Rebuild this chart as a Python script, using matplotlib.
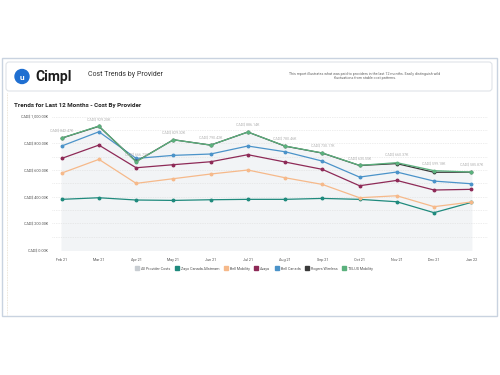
import numpy as np
import matplotlib
matplotlib.use("Agg")
import matplotlib.pyplot as plt
from matplotlib.patches import FancyBboxPatch, Rectangle, Circle
from matplotlib.lines import Line2D

plt.rcParams['font.family'] = ['Roboto', 'DejaVu Sans']

months = ["Feb 21", "Mar 21", "Apr 21", "May 21", "Jun 21", "Jul 21",
          "Aug 21", "Sep 21", "Oct 21", "Nov 21", "Dec 21", "Jan 22"]

# values in thousands of CAD$
all_provider = [842.47, 929.20, 666.73, 829.32, 790.42, 886.14,
                780.46, 730.17, 635.55, 660.37, 599.18, 585.87]
zayo = [380, 392, 375, 372, 377, 380, 380, 387, 380, 362, 280, 357]
bell_mobility = [577, 680, 500, 535, 570, 600, 542, 492, 392, 407, 325, 360]
avaya = [687, 787, 617, 640, 662, 715, 660, 605, 482, 522, 450, 455]
bell_canada = [780, 887, 687, 710, 720, 780, 737, 667, 547, 585, 517, 497]
rogers = [839, 928, 664, 827, 787, 885, 779, 727, 634, 648, 583, 584]
telus = [840, 930, 662, 827, 787, 885, 780, 728, 635, 655, 595, 585]

series = [
    ("Zayo Canada Allstream", zayo, "#1f8a7d"),
    ("Bell Mobility", bell_mobility, "#f6b98a"),
    ("Avaya", avaya, "#8e2a57"),
    ("Bell Canada", bell_canada, "#4b93c9"),
    ("Rogers Wireless", rogers, "#3a3a3a"),
    ("TELUS Mobility", telus, "#5bb17d"),
]

fig = plt.figure(figsize=(5, 3.75), dpi=100)

# background layer in pixel coordinates
bg = fig.add_axes([0, 0, 1, 1], zorder=0)
bg.set_xlim(0, 500)
bg.set_ylim(375, 0)
bg.axis("off")

bg.add_patch(Rectangle((2, 58), 495, 258, fill=False, ec="#c9d3e0", lw=1.0))
bg.add_patch(FancyBboxPatch((6, 62), 486, 29, boxstyle="round,pad=0,rounding_size=3",
                            fc="white", ec="#dfe3e8", lw=0.8))
bg.plot([7, 7], [93, 315], color="#e6dccb", lw=0.6, ls=(0, (1, 1)))

bg.add_patch(Circle((22, 76.5), 7, color="#1f6fd1"))
bg.text(22, 77, "u", color="white", fontsize=6, fontweight="bold", ha="center", va="center")
bg.text(35, 77, "Cimpl", fontsize=10, fontweight="bold", color="#1d1d1d", va="center")
bg.text(88, 75, "Cost Trends by Provider", fontsize=5, color="#333333", va="center")
bg.text(365, 76, "This report illustrates what was paid to providers in the last 12 months. Easily distinguish wild\n"
        "fluctuations from stable cost patterns.",
        fontsize=2.6, color="#666666", ha="center", va="center", linespacing=1.3)

bg.text(14, 106, "Trends for Last 12 Months - Cost By Provider", fontsize=4.5,
        fontweight="bold", color="#222222", va="center")

# chart
ax = fig.add_axes([52 / 500, 1 - 250 / 375, 436 / 500, 133.3 / 375], zorder=1)
ax.patch.set_alpha(0)
x = np.arange(len(months))
ax.set_xlim(-0.26, 11.45)
ax.set_ylim(0, 1000)

ax.fill_between(x, 0, all_provider, color="#f2f4f6", zorder=1)
for name, vals, col in series:
    ax.plot(x, vals, color=col, lw=0.9, marker="o", ms=1.8, zorder=3)

for xi, v in zip(x, all_provider):
    ax.annotate(f"CAD$ {v:,.2f}K", (xi, v), xytext=(0, 3.5), textcoords="offset points",
                ha="center", va="bottom", fontsize=2.6, color="#b0b0b0", zorder=4)

ax.set_yticks(np.arange(0, 1001, 200))
ax.set_yticklabels([f"CAD$ {v:,.2f}K" for v in np.arange(0, 1001, 200)])
ax.set_yticks(np.arange(0, 1001, 100), minor=True)
ax.grid(True, which="both", axis="y", color="#dcdcdc", lw=0.5, ls=(0, (1, 1.5)))
ax.set_xticks(x)
ax.set_xticklabels(months)
ax.tick_params(axis="both", which="both", length=0, labelsize=2.7, labelcolor="#555555")
ax.tick_params(axis="y", pad=3)
ax.tick_params(axis="x", pad=6)
for s in ax.spines.values():
    s.set_visible(False)

handles = [Line2D([], [], ls="none", marker="s", ms=2.8, color="#c8cdd2", label="All Provider Costs")]
handles += [Line2D([], [], ls="none", marker="s", ms=2.8, color=c, label=n) for n, _, c in series]
fig.legend(handles=handles, loc="center", bbox_to_anchor=(254 / 500, 1 - 268.7 / 375),
           ncol=7, frameon=False, fontsize=2.7, handletextpad=0.5, columnspacing=1.3,
           handlelength=1.0, labelcolor="#555555")

fig.savefig("out.png", dpi=100)
